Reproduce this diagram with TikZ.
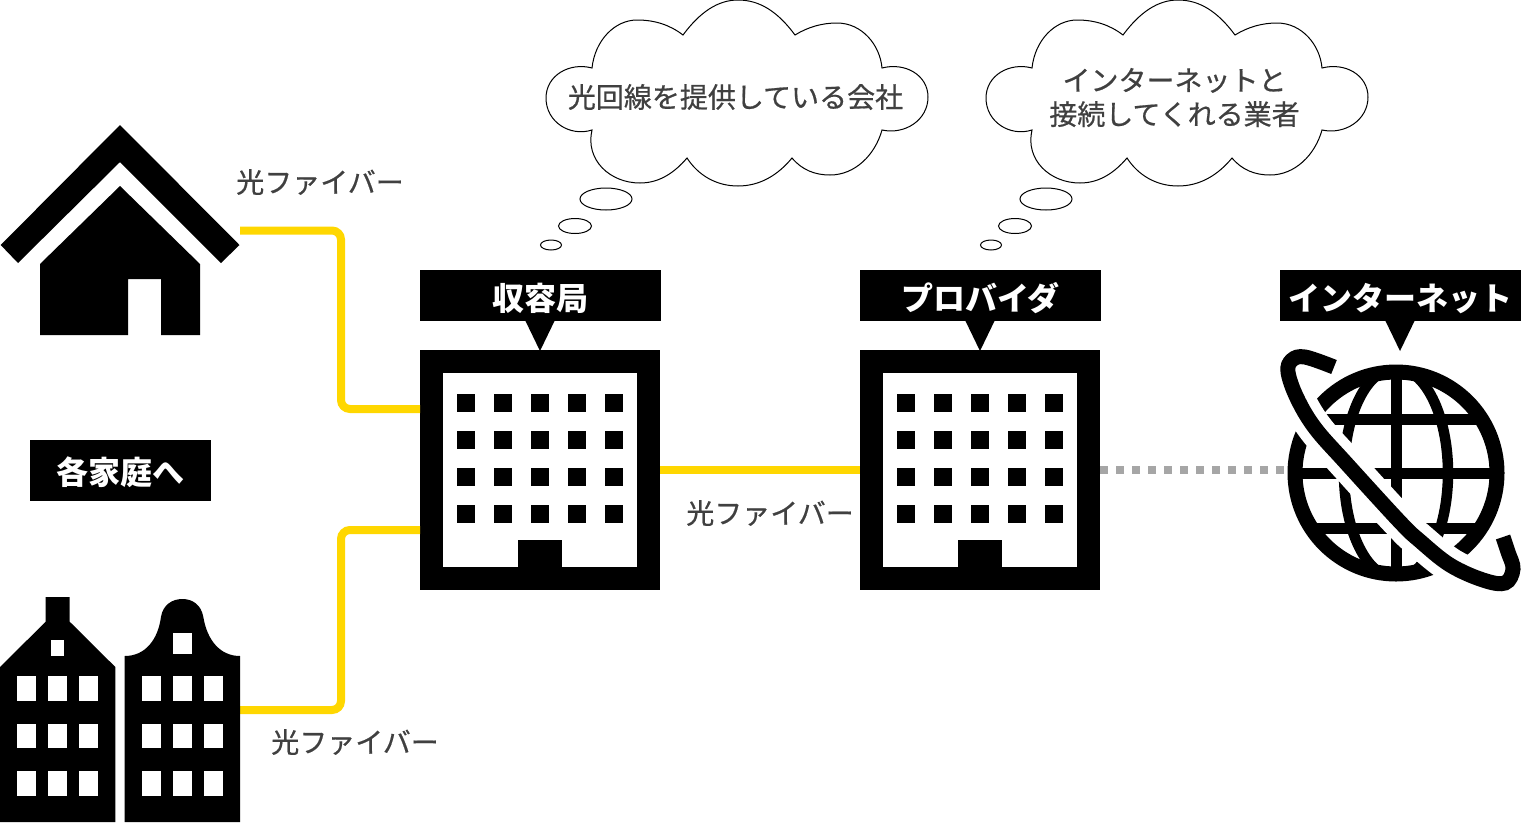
\documentclass[tikz,border=0pt]{standalone}
\usepackage{fontspec}
\setmainfont{Noto Sans CJK JP}
\newfontfamily\capfont[FakeBold=0.6]{Noto Sans CJK JP}
\newcommand{\cloudshape}{(683,35) .. controls (700,12) and (718,0) .. (738,0) .. controls (760,0) and (778,12) .. (795,35)
 .. controls (808,27) and (822,23) .. (837,23) .. controls (862,23) and (880,45) .. (882,68)
 .. controls (905,62) and (928,75) .. (928,97) .. controls (928,120) and (905,135) .. (882,130)
 .. controls (875,155) and (855,175) .. (830,175) .. controls (815,175) and (802,170) .. (792,158)
 .. controls (778,175) and (760,186) .. (738,186) .. controls (716,186) and (698,175) .. (687,158)
 .. controls (675,172) and (660,183) .. (640,183) .. controls (610,183) and (585,160) .. (592,130)
 .. controls (570,137) and (546,122) .. (546,98) .. controls (546,75) and (570,62) .. (592,68)
 .. controls (595,40) and (615,20) .. (637,20) .. controls (655,20) and (670,25) .. (683,35) -- cycle}
\tikzset{
  fiber/.style={draw=fiberyellow,line width=8pt,rounded corners=9pt},
  ghost/.style={draw=none,inner sep=0pt,outer sep=0pt},
  officebox/.style={draw=none,fill=black,inner sep=0pt,outer sep=0pt,minimum width=240pt,minimum height=240pt},
  tagbox/.style={fill=black,text=white,inner sep=0pt,outer sep=0pt,minimum width=241pt,minimum height=51pt,text height=30pt,text depth=0pt,font=\fontsize{32}{36}\selectfont\bfseries},
  caption/.style={text=labelgray,inner sep=0pt,font=\fontsize{28}{34}\selectfont\capfont,align=center},
  cloudstyle/.style={draw=black,line width=1pt,fill=white}
}
\definecolor{fiberyellow}{HTML}{FFD700}
\definecolor{labelgray}{HTML}{404040}
\definecolor{dotgray}{HTML}{A6A6A6}
\begin{document}
\begin{tikzpicture}[x=1pt,y=-1pt]
\useasboundingbox (0,0) rectangle (1521,831);
% anchors
\node[ghost,minimum width=240pt,minimum height=210pt] (house) at (120,230.5) {};
\node[ghost,minimum width=240pt,minimum height=224pt] (rows) at (120,710) {};
\node[officebox] (office) at (540,470) {};
\node[officebox] (isp) at (980,470) {};
\node[ghost,minimum width=217pt,minimum height=217pt] (globe) at (1396,473) {};
\coordinate (officeupper) at (420,409);
\coordinate (officelower) at (420,530);
\coordinate (globeport) at (1284,470);
% connectors
\draw[fiber] (house.east) -- (341,230.5) -- (341,409) -- (officeupper);
\draw[fiber] (rows.east) -- (341,710) -- (341,530) -- (officelower);
\draw[fiber] (office.east) -- (isp.west);
\draw[draw=dotgray,line width=8pt,dash pattern=on 8pt off 8pt] (isp.east) -- (globeport);
% house
\fill (120,125) -- (239.5,245) -- (221,263) -- (120,162) -- (18,263) -- (0.7,245) -- cycle;
\fill (120,186) -- (200,264) -- (200,335) -- (161,335) -- (161,279) -- (128,279) -- (128,335) -- (40,335) -- (40,264) -- cycle;
% row houses
\fill (45.7,597) -- (69.7,597) -- (69.7,621.7) -- (115.3,667) -- (115.3,822) -- (0,822) -- (0,667) -- (45.7,621.7) -- cycle;
\fill (124.7,656) .. controls (145,656) and (158,640) .. (161,616.7) .. controls (163,605) and (172,599) .. (182.3,599) .. controls (193,599) and (201,605) .. (203.3,616.7) .. controls (207,640) and (220,656) .. (240,656) -- (240,822) -- (124.7,822) -- cycle;
\fill[white] (51,640) rectangle (64,655.7);
\fill[white] (173.3,633.3) rectangle (191.7,654.3);
\foreach \wy in {676.3,723.7,771.3}{
  \foreach \wx in {17.3,48.3,79.3,142.3,173.3,204.3}{
    \fill[white] (\wx,\wy) rectangle ++(18.4,24.7);
  }
}
% office interiors
\fill[white] (443,373) rectangle (637,567);
\fill[white] (883,373) rectangle (1077,567);
\foreach \ox in {0,440}{
  \foreach \wx in {457,494,531,568,605}{
    \foreach \wy in {394,431,468,505}{
      \fill (\wx+\ox,\wy) rectangle ++(18,18);
    }
  }
  \fill (518+\ox,540) rectangle (562+\ox,567);
}
% tags
\node[tagbox] (tagoffice) at (540.5,295.5) {収容局};
\node[tagbox] (tagisp) at (980.5,295.5) {プロバイダ};
\node[tagbox] (tagnet) at (1400.5,295.5) {インターネット};
\fill (525,320) -- (555,320) -- (540,351) -- cycle;
\fill (965,320) -- (995,320) -- (980,351) -- cycle;
\fill (1385,320) -- (1415,320) -- (1400,351) -- cycle;
\node[fill=black,text=white,inner sep=0pt,minimum width=181pt,minimum height=61pt,text height=30pt,text depth=2pt,font=\fontsize{32}{36}\selectfont\bfseries] (homes) at (120.5,470.5) {各家庭へ};
% globe
\begin{scope}
\clip (1396,473) circle (102);
\draw[line width=11pt] (1396,360) -- (1396,586);
\draw[line width=11pt] (1290,419) -- (1502,419);
\draw[line width=11pt] (1290,473) -- (1502,473);
\draw[line width=11pt] (1290,528) -- (1502,528);
\draw[line width=10.5pt] (1396,473) ellipse (52 and 105);
\end{scope}
\draw[line width=15pt] (1396,473) circle (101);
\draw[white,line width=35pt] plot[smooth,tension=0.6] coordinates {(1288,372) (1297,398) (1315,428) (1346,463) (1400,522) (1420,541) (1450,565) (1483,581)};
\draw[line width=15pt] plot[smooth,tension=0.6] coordinates {(1334,367) (1305,357) (1292,360) (1288,372) (1297,398) (1315,428) (1346,463) (1400,522) (1420,541) (1450,565) (1483,580) (1505,583) (1513,569) (1508,552) (1503,537)};
% clouds
\draw[cloudstyle] \cloudshape;
\begin{scope}[xshift=440pt]
\draw[cloudstyle] \cloudshape;
\end{scope}
\node[caption] (cloudA) at (735.5,97) {光回線を提供している会社};
\node[caption] (cloudB) at (1174.5,97.5) {インターネットと\\接続してくれる業者};
\foreach \ox in {0,440}{
  \draw[cloudstyle] (606+\ox,199) ellipse (26 and 11);
  \draw[cloudstyle] (575+\ox,226) ellipse (16.5 and 7.5);
  \draw[cloudstyle] (551+\ox,245) ellipse (10.5 and 5);
}
% captions
\node[caption] (capA) at (320,182) {光ファイバー};
\node[caption] (capB) at (770,513) {光ファイバー};
\node[caption] (capC) at (355,742) {光ファイバー};
\end{tikzpicture}
\end{document}
